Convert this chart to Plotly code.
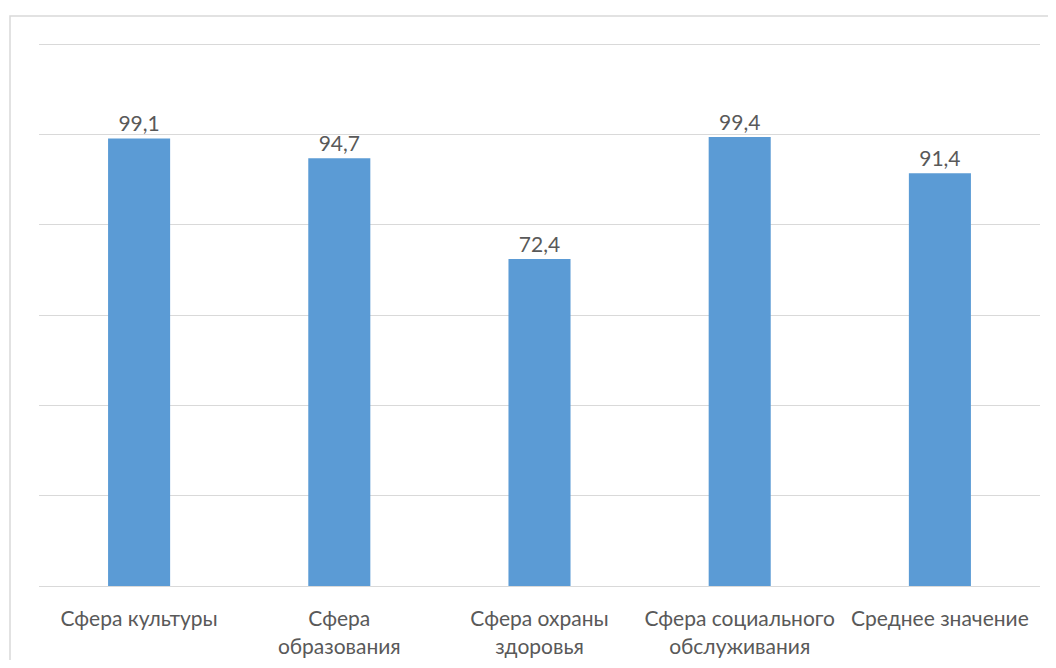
import plotly.graph_objects as go

categories = ["Сфера культуры", "Сфера<br>образования", "Сфера охраны<br>здоровья",
              "Сфера социального<br>обслуживания", "Среднее значение"]
values = [99.1, 94.7, 72.4, 99.4, 91.4]

OFF = 8  # page body margin
W, H = 1056 - 2 * OFF, 668 - 2 * OFF
YMAX = 122
unit = (586 - 44) / 120
L, R, T, B = 39 - OFF, 1040 - OFF, round(586 - YMAX * unit) - OFF, 586 - OFF

fig = go.Figure(go.Bar(
    x=categories, y=values,
    marker=dict(color="#5b9bd5", line=dict(width=0)),
    width=0.31,
    texttemplate="%{y:.1f}", textposition="outside",
    textfont=dict(size=21, color="#595959"),
    cliponaxis=False,
))

fig.update_layout(
    width=W, height=H,
    margin=dict(l=L, r=W - R, t=T, b=H - B, pad=0, autoexpand=False),
    paper_bgcolor="white", plot_bgcolor="white",
    separators=", ",
    font=dict(family="Lato, Open Sans, sans-serif", size=21, color="#595959"),
    showlegend=False,
    xaxis=dict(showgrid=False, showline=False, ticks="outside", ticklen=14, tickcolor="rgba(0,0,0,0)",
               tickfont=dict(size=21, color="#595959"), automargin=False),
    yaxis=dict(range=[0, YMAX], tickvals=[20, 40, 60, 80, 100, 120], showticklabels=False, showgrid=True,
               gridcolor="#d9d9d9", gridwidth=1, zeroline=True, zerolinecolor="#d9d9d9",
               zerolinewidth=1, showline=False, ticks="", automargin=False),
)

pw, ph = R - L, B - T
fig.add_shape(type="rect", xref="paper", yref="paper",
              x0=(10 - OFF - L) / pw, x1=(1070 - L) / pw,
              y0=-(680 - B) / ph, y1=1 + (T - (16 - OFF)) / ph,
              line=dict(color="#d9d9d9", width=1.5), fillcolor="rgba(0,0,0,0)", layer="below")

fig.write_html("out.html")
